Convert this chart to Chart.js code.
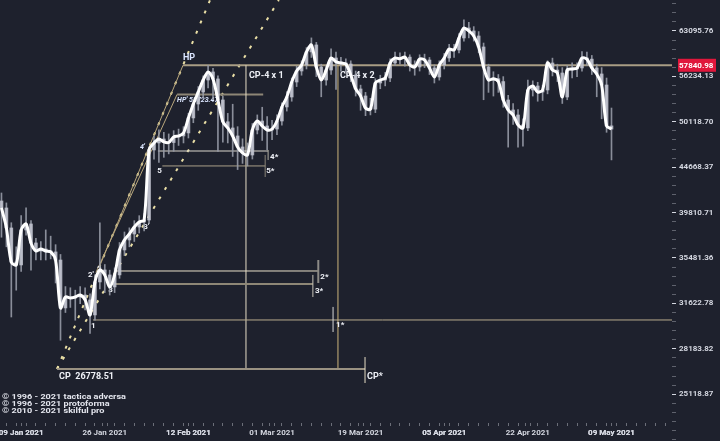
<!DOCTYPE html>
<html>
<head>
<meta charset="utf-8">
<script src="https://cdn.jsdelivr.net/npm/chart.js@4.4.1/dist/chart.umd.min.js"></script>
<style>
  html, body { margin: 0; padding: 0; background: #1e212d; }
  #wrap { width: 720px; height: 441px; }
</style>
</head>
<body>
<div id="wrap"><canvas id="chart" width="720" height="441"></canvas></div>
<script>
// day index: 0 = 09 Jan 2021, first candle is day -4
const firstDay = -4;
const firstOpen = 41000;

const closes = [
  40280, 38290, 35120, 34860, 38090, 38680, 36860, 36120, 36300, 36120,
  36030, 35300, 31260, 32140, 32060, 32140, 32300, 31900, 30710, 33390,
  34420, 33990, 32970, 33990, 36210, 37140, 37710, 38380, 38870, 39070,
  46660, 47500, 47980, 47620, 47550, 48230, 48350, 48720, 50610, 52430,
  54050, 55720, 56870, 55870, 52970, 50120, 49340, 48350, 47020, 46310,
  46070, 49090, 50220, 49590, 49090, 49210, 50220, 52040, 53370, 55440,
  57010, 57880, 59830, 60900, 57590, 55720, 57150, 58920, 58330, 58180,
  58030, 56430, 54470, 53510, 51900, 51750, 55300, 55720, 56010, 58180,
  58920, 58800, 59050, 57880, 57590, 58770, 58620, 57450, 56150, 57880,
  58920, 60280, 60130, 61990, 63580, 63100, 62300, 60590, 57590, 55720,
  55900, 55500, 52970, 51640, 50990, 49720, 49340, 54330, 54880, 54050,
  54330, 58180, 57150, 56720, 53370, 57150, 57300, 57450, 58920, 58750,
  57450, 56580, 55020, 49600, 49200
];

const highs = [
  41840, 40800, 38800, 36500, 39500, 40300, 39000, 37300, 37000, 38100,
  37500, 36700, 35800, 33000, 32900, 32700, 33000, 32900, 32400, 34000,
  38800, 34900, 34400, 34600, 36900, 37900, 38300, 39000, 39500, 39700,
  47000, 48300, 49100, 48800, 48600, 49000, 49200, 49500, 51200, 53000,
  54800, 56300, 57841, 57400, 56300, 53500, 51200, 52400, 49500, 48000,
  47500, 49900, 51000, 52000, 50800, 50300, 51000, 52600, 54100, 56000,
  57700, 58500, 60500, 62000, 61300, 58000, 57800, 60300, 59800, 59000,
  58800, 58500, 57000, 55000, 54000, 53200, 55900, 56400, 56800, 58800,
  59800, 59700, 59800, 59400, 58500, 59400, 59500, 59000, 57900, 58500,
  59600, 61000, 61000, 62700, 64900, 64500, 63800, 63000, 61200, 58000,
  56900, 56500, 56200, 53600, 52500, 51700, 50500, 55700, 55600, 55400,
  55000, 58500, 58900, 58000, 57500, 57800, 58200, 58200, 59900, 59800,
  59300, 58000, 57500, 56000, 51900
];

const lows = [
  37400, 36500, 30550, 32700, 34300, 37600, 34400, 35300, 35300, 35300,
  35400, 33300, 28800, 30900, 31300, 30300, 31600, 31100, 29300, 30300,
  32800, 32500, 32300, 32500, 33700, 35700, 36500, 37000, 37800, 38000,
  38700, 45600, 45200, 45800, 46200, 46500, 47200, 47500, 48100, 50000,
  51600, 53300, 54600, 53000, 46500, 47600, 47500, 45900, 44400, 45100,
  44800, 45600, 48600, 47800, 46700, 47900, 48500, 49700, 51500, 52800,
  54800, 56400, 57300, 59000, 56200, 53400, 55000, 56500, 54400, 57000,
  56900, 55500, 53500, 51600, 50900, 51000, 51300, 54500, 54900, 55500,
  57800, 58000, 57700, 57000, 56400, 57000, 57500, 56500, 55300, 55700,
  57300, 58400, 59000, 59700, 61500, 62000, 61500, 59700, 53000, 54000,
  53500, 54000, 52000, 47000, 49800, 47000, 47100, 49000, 53500, 52800,
  52900, 53800, 56300, 55500, 52500, 53000, 56000, 56200, 57000, 57800,
  56500, 53400, 50500, 48800, 45500
];

const dateTicks = [0, 17, 34, 51, 69, 86, 103, 120];
const dateLabels = ['09 Jan 2021', '26 Jan 2021', '12 Feb 2021', '01 Mar 2021',
  '19 Mar 2021', '05 Apr 2021', '22 Apr 2021', '09 May 2021'];
const priceTicks = [25118.87, 28183.82, 31622.78, 35481.36, 39810.71,
  44668.37, 50118.70, 56234.13, 63095.76];

// wave annotation levels (price) and where they sit (day index)
const cpPrice = 26778.51, cpDay = 7.3;
const hpPrice = 57840.98, hpDay = 32.9;
const hpPrimePrice = 53723.47, hpPrimeDay = 31.7, hpPrimeEnd = 49.2;
const rayB = { day: 44.4, price: 57840.98 };
const point2 = { day: 15.8, price: 34590 };
const point2p = { day: 15.2, price: 34200 };
const cp4x1Day = 45.7, cp4x2Day = 64.4;
const level4 = { price: 46540, from: 27.8, to: 50.2, tick: [46660, 45490] };
const level5 = { price: 44810, from: 28.7, to: 49.6, tick: [46070, 43570] };
const level2 = { price: 34330, from: 19.1, to: 60.4, tick: [35300, 33300] };
const level3 = { price: 33220, from: 18.5, to: 59.3, tick: [33990, 32140] };
const level1 = { price: 30320, from: 14.6, tickDay: 63.4, tick: [31340, 29410] };
const levelCP = { to: 69.9, tick: [27600, 25840] };

const candleDays = closes.map((c, i) => firstDay + i);
const opens = closes.map((c, i) => i ? closes[i - 1] : firstOpen);

// minor y ticks between labelled ones, every 1/5 of a label step (log spacing)
const yTicks = [];
const step = Math.log10(priceTicks[1] / priceTicks[0]) / 5;
for (let e = Math.log10(priceTicks[0]) - 5 * step; e < Math.log10(68254); e += step) {
  yTicks.push(Math.pow(10, e));
}
const xTicks = [];
for (let d = -4; d <= 132; d += 2) xTicks.push(d);

const bg = {
  id: 'bg',
  beforeDraw(chart) {
    const ctx = chart.ctx;
    ctx.save();
    ctx.fillStyle = '#1e212d';
    ctx.fillRect(0, 0, chart.width, chart.height);
    ctx.restore();
  }
};

const annotate = {
  id: 'annotate',
  beforeDatasetsDraw(chart) {
    const { ctx, chartArea: a, scales: { x, y } } = chart;
    const X = v => x.getPixelForValue(v), Y = v => y.getPixelForValue(v);
    ctx.save();
    ctx.beginPath();
    ctx.rect(a.left, a.top, a.width, a.height);
    ctx.clip();

    const seg = (x1, y1, x2, y2, color, w, dash) => {
      ctx.beginPath();
      ctx.setLineDash(dash || []);
      ctx.strokeStyle = color;
      ctx.lineWidth = w;
      ctx.moveTo(x1, y1);
      ctx.lineTo(x2, y2);
      ctx.stroke();
    };
    const ray = (d1, p1, d2, p2, color, w, dash) => {
      const x1 = X(d1), y1 = Y(p1), x2 = X(d2), y2 = Y(p2);
      const t = (a.top - y1) / (y2 - y1);
      seg(x1, y1, x1 + t * (x2 - x1), a.top, color, w, dash);
    };
    const text = (s, px, py, color, font, align) => {
      ctx.font = font;
      ctx.fillStyle = color;
      ctx.textAlign = align || 'left';
      ctx.textBaseline = 'middle';
      ctx.fillText(s, px, py);
    };

    // dotted rays from CP
    ray(cpDay, cpPrice, hpDay, hpPrice, '#eadfa6', 2, [3, 8]);
    ray(cpDay, cpPrice, rayB.day, rayB.price, '#eadfa6', 2, [3, 8]);

    // thin channel lines
    seg(X(point2.day), Y(point2.price), X(hpDay), Y(hpPrice), '#b9a77c', 1);
    seg(X(point2p.day), Y(point2p.price), X(hpPrimeDay), Y(hpPrimePrice), '#b9a77c', 1);

    // HP and HP'
    seg(X(hpDay), Y(hpPrice), a.right, Y(hpPrice), '#a89d84', 2);
    seg(X(hpPrimeDay), Y(hpPrimePrice), X(hpPrimeEnd), Y(hpPrimePrice), '#8d8676', 2);

    // verticals
    seg(X(cp4x1Day), Y(hpPrice), X(cp4x1Day), Y(cpPrice), '#e6ddc6', 1);
    seg(X(cp4x2Day), Y(hpPrice), X(cp4x2Day), Y(cpPrice), '#cdb47c', 1);

    // wave levels
    seg(X(level4.from), Y(level4.price), X(level4.to), Y(level4.price), '#d9d6cc', 1);
    seg(X(level4.to), Y(level4.tick[0]), X(level4.to), Y(level4.tick[1]), '#b0aca0', 1);
    seg(X(level5.from), Y(level5.price), X(level5.to), Y(level5.price), '#a99f88', 1);
    seg(X(level5.to), Y(level5.tick[0]), X(level5.to), Y(level5.tick[1]), '#8a8478', 1);
    seg(X(level2.from), Y(level2.price), X(level2.to), Y(level2.price), '#e8dfc8', 1);
    seg(X(level2.to), Y(level2.tick[0]), X(level2.to), Y(level2.tick[1]), '#8c8a86', 2);
    seg(X(level3.from), Y(level3.price), X(level3.to), Y(level3.price), '#8e8776', 2);
    seg(X(level3.to), Y(level3.tick[0]), X(level3.to), Y(level3.tick[1]), '#c8c4b8', 1);
    seg(X(level1.from), Y(level1.price), a.right, Y(level1.price), '#b8ab8c', 1);
    seg(X(level1.tickDay), Y(level1.tick[0]), X(level1.tickDay), Y(level1.tick[1]), '#d8d8d8', 1);
    seg(X(cpDay), Y(cpPrice), X(levelCP.to), Y(cpPrice), '#9a9282', 2);
    seg(X(levelCP.to), Y(levelCP.tick[0]), X(levelCP.to), Y(levelCP.tick[1]), '#e6ddc6', 1);

    // labels
    const bold = 'bold 9px Roboto, "DejaVu Sans", sans-serif';
    const small = 'bold 8px Roboto, "DejaVu Sans", sans-serif';
    const ital = 'italic bold 7px Roboto, "DejaVu Sans", sans-serif';
    const white = '#eef0f6', blue = '#dbe6ff';
    text('HP', X(hpDay), Y(hpPrice) - 8, blue, bold);
    text("HP' 53723.47", X(hpPrimeDay), Y(hpPrimePrice) + 6, blue, ital);
    text('CP-4 x 1', X(cp4x1Day) + 3, Y(hpPrice) + 10, white, bold);
    text('CP-4 x 2', X(cp4x2Day) + 2, Y(hpPrice) + 10, white, bold);
    text("4'", X(level4.from) - 18, Y(level4.price) - 4, blue, ital);
    text('5', X(level5.from) - 5, Y(level5.price) + 5, white, small);
    text('4*', X(level4.to) + 2, Y(level4.price) + 6, white, small);
    text('5*', X(level5.to) + 1, Y(level5.price) + 5, white, small);
    text('2', X(point2.day) - 2, Y(point2.price) + 1, white, small);
    text("2'", X(point2p.day) - 8, Y(point2p.price) + 3, white, small);
    text('3', X(level3.from) - 4, Y(level3.price) + 6, white, small);
    text("3'", X(24.8), Y(38400), white, small);
    text('1', X(level1.from) - 2, Y(level1.price) + 6, white, small);
    text('2*', X(level2.to) + 2, Y(level2.price) + 6, white, small);
    text('3*', X(level3.to) + 2, Y(level3.price) + 7, white, small);
    text('1*', X(level1.tickDay) + 3, Y(level1.price) + 5, white, small);
    text('CP  26778.51', X(cpDay) + 2, Y(cpPrice) + 8, white, bold);
    text('CP*', X(levelCP.to) + 2, Y(cpPrice) + 8, white, bold);
    ctx.restore();
  },
  afterDraw(chart) {
    const { ctx, chartArea: a, scales: { y } } = chart;
    ctx.save();
    // last HP price tag on the axis
    const py = y.getPixelForValue(hpPrice);
    ctx.fillStyle = '#e0173c';
    ctx.fillRect(a.right + 6, py - 6.5, 38, 13);
    ctx.font = 'bold 8px Roboto, "DejaVu Sans", sans-serif';
    ctx.fillStyle = '#ffffff';
    ctx.textAlign = 'left';
    ctx.textBaseline = 'middle';
    ctx.fillText(hpPrice.toFixed(2), a.right + 7, py + 0.5);
    // copyright block, slightly stretched like the original
    ctx.font = 'bold 7px Roboto, "DejaVu Sans", sans-serif';
    ctx.fillStyle = '#e4e6ee';
    ['\u00a9 1996 - 2021 tactica adversa', '\u00a9 1996 - 2021 protoforma', '\u00a9 2010 - 2021 skilful pro']
      .forEach((s, i) => {
        ctx.save();
        ctx.translate(2, 397 + i * 7);
        ctx.scale(1.3, 1);
        ctx.fillText(s, 0, 0);
        ctx.restore();
      });
    ctx.restore();
  }
};

new Chart(document.getElementById('chart'), {
  type: 'bar',
  data: {
    datasets: [
      {
        type: 'line',
        order: 0,
        data: candleDays.map((d, i) => ({ x: d, y: closes[i] })),
        borderColor: '#ffffff',
        borderWidth: 3,
        tension: 0.3,
        pointRadius: 0
      },
      {
        order: 1,
        data: candleDays.map((d, i) => ({ x: d, y: [opens[i], closes[i]] })),
        backgroundColor: 'rgba(196,199,210,0.85)',
        barThickness: 3,
        grouped: false
      },
      {
        order: 2,
        data: candleDays.map((d, i) => ({ x: d, y: [lows[i], highs[i]] })),
        backgroundColor: 'rgba(150,154,166,0.9)',
        barThickness: 1,
        grouped: false
      }
    ]
  },
  options: {
    responsive: false,
    animation: false,
    layout: { padding: 0 },
    plugins: { legend: { display: false }, tooltip: { enabled: false } },
    scales: {
      x: {
        type: 'linear',
        min: -4.3,
        max: 132.3,
        offset: false,
        afterBuildTicks: s => { s.ticks = xTicks.concat(dateTicks).sort((p, q) => p - q).map(v => ({ value: v })); },
        afterFit: s => { s.height = 18; s.paddingLeft = 0; s.paddingRight = 0; },
        grid: { display: true, drawOnChartArea: false, tickLength: 3, tickColor: '#6b6e78' },
        border: { display: false },
        ticks: {
          autoSkip: false,
          maxRotation: 0,
          padding: 2,
          color: '#d4d7e0',
          font: { family: 'Roboto, "DejaVu Sans", sans-serif', size: 8, weight: 'bold' },
          callback: v => { const k = dateTicks.indexOf(v); return k >= 0 ? dateLabels[k] : ''; }
        }
      },
      y: {
        type: 'logarithmic',
        position: 'right',
        min: 23349,
        max: 68254,
        afterBuildTicks: s => {
          s.ticks = yTicks.map(v => {
            const lab = priceTicks.find(p => Math.abs(p - v) / p < 1e-4);
            return { value: lab || v, major: !!lab };
          });
        },
        afterFit: s => { s.width = 48; s.paddingTop = 0; s.paddingBottom = 0; },
        grid: {
          display: true,
          drawOnChartArea: false,
          tickLength: 4,
          tickColor: c => (c.tick && c.tick.major) ? '#d4d7e0' : '#5f626d'
        },
        border: { display: false },
        ticks: {
          autoSkip: false,
          padding: 3,
          color: '#d4d7e0',
          font: { family: 'Roboto, "DejaVu Sans", sans-serif', size: 8, weight: 'bold' },
          callback: v => priceTicks.includes(v) ? v.toFixed(2) : ''
        }
      }
    }
  },
  plugins: [bg, annotate]
});
</script>
</body>
</html>
